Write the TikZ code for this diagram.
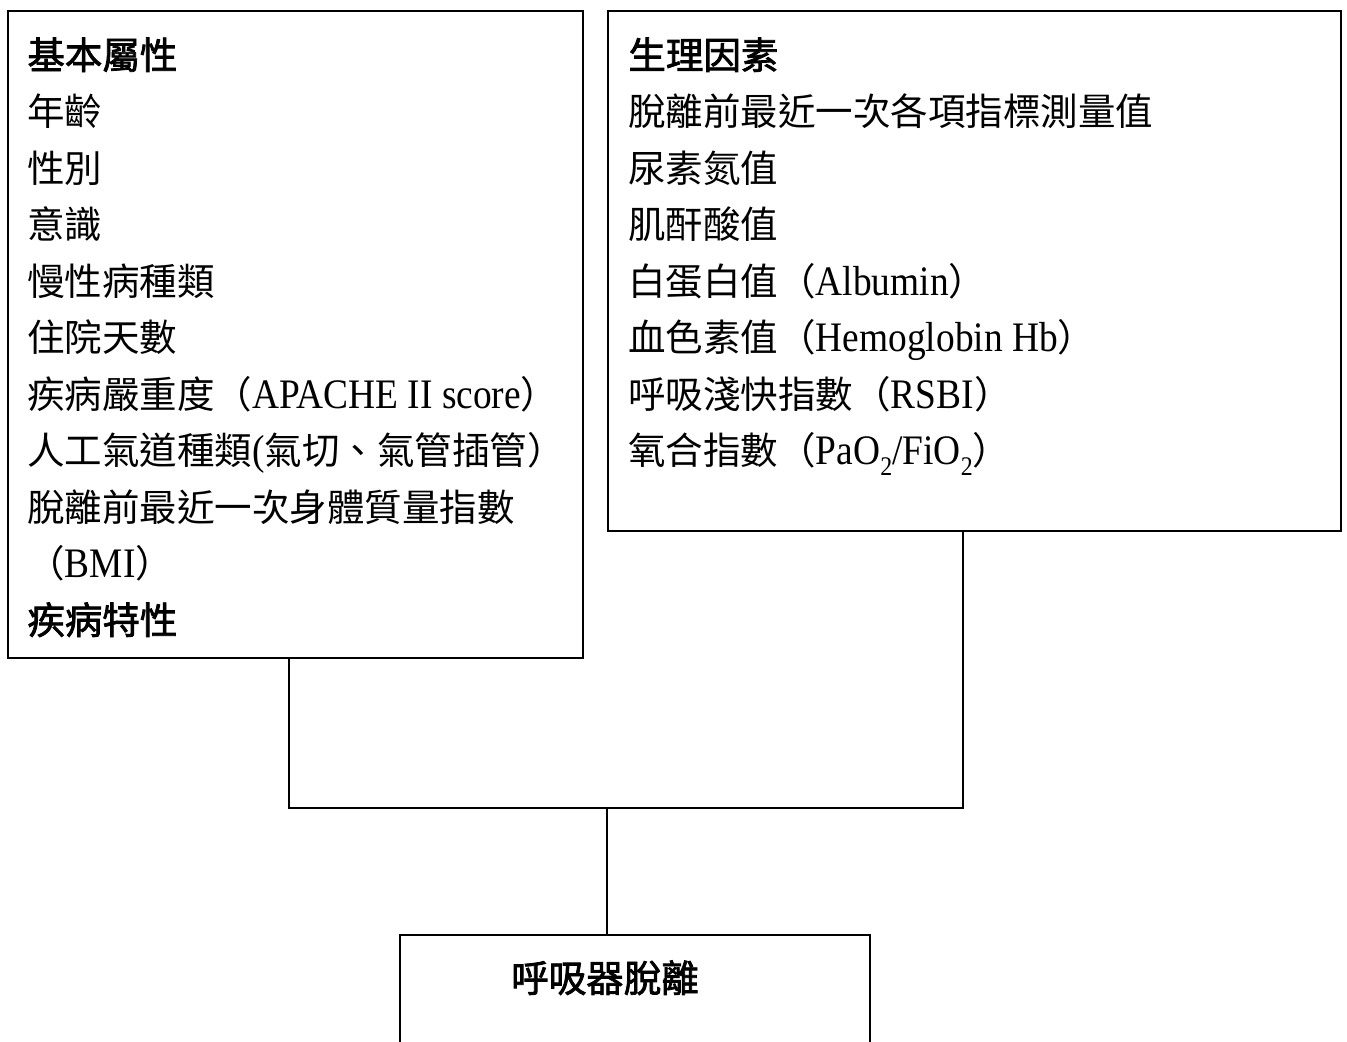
\documentclass[tikz,border=0pt]{standalone}
\usepackage{fontspec}
\setmainfont{Liberation Serif}[Scale=1.12,FakeStretch=0.89]
\newfontfamily\cjk{Noto Sans CJK TC}
\newfontfamily\cjkb[FakeBold=2]{Noto Sans CJK TC}
\newcommand\zh[1]{{\cjk #1}}
\newcommand\zhb[1]{{\cjkb #1}}
\newcommand\subtwo{\raisebox{-0.25em}{\fontsize{12pt}{12pt}\selectfont 2}}
\begin{document}
\begin{tikzpicture}[x=0.5pt,y=-0.5pt,
  box/.style={draw,line width=1pt,anchor=north west,inner sep=0pt},
  txt/.style={anchor=base west,inner sep=0pt,font=\fontsize{18.75pt}{28pt}\selectfont},
  ctxt/.style={anchor=base,inner sep=0pt,font=\fontsize{18.75pt}{28pt}\selectfont},
  conn/.style={line width=1pt}]
\useasboundingbox (0,0) rectangle (1347,1041);
\clip (0,0) rectangle (1347,1041);
\node[box,minimum width=287.5pt,minimum height=323.5pt] (L) at (7,10) {};
\node[box,minimum width=366.5pt,minimum height=260pt] (R) at (607,10) {};
\node[box,minimum width=235pt,minimum height=70pt] (B) at (399,934) {};
% left texts
\node[txt] (l0) at (27,69) {\zhb{基本屬性}};
\node[txt] (l1) at (27,125.5) {\zh{年齡}};
\node[txt] (l2) at (27,182) {\zh{性別}};
\node[txt] (l3) at (27,238.5) {\zh{意識}};
\node[txt] (l4) at (27,295) {\zh{慢性病種類}};
\node[txt] (l5) at (27,351.5) {\zh{住院天數}};
\node[txt] (l6) at (27,408) {\zh{疾病嚴重度（}APACHE II score\zh{）}};
\node[txt] (l7) at (27,464.5) {\zh{人工氣道種類}(\zh{氣切、氣管插管）}};
\node[txt] (l8) at (27,521) {\zh{脫離前最近一次身體質量指數}};
\node[txt] (l9) at (27,577.5) {\zh{（}BMI\zh{）}};
\node[txt] (l10) at (27,634) {\zhb{疾病特性}};
% right texts
\node[txt] (r0) at (628,69) {\zhb{生理因素}};
\node[txt] (r1) at (628,125.5) {\zh{脫離前最近一次各項指標測量值}};
\node[txt] (r2) at (628,182) {\zh{尿素氮值}};
\node[txt] (r3) at (628,238.5) {\zh{肌酐酸值}};
\node[txt] (r4) at (628,295) {\zh{白蛋白值（}Albumin\zh{）}};
\node[txt] (r5) at (628,351.5) {\zh{血色素值（}Hemoglobin Hb\zh{）}};
\node[txt] (r6) at (628,408) {\zh{呼吸淺快指數（}RSBI\zh{）}};
\node[txt] (r7) at (628,464.5) {\zh{氧合指數（}PaO\subtwo/FiO\subtwo\zh{）}};
% bottom text
\node[ctxt] (b0) at (605,992) {\zhb{呼吸器脫離}};
% connectors
\coordinate (J) at (607,808);
\draw[conn] ([xshift=141pt]L.south west) |- (J) -| ([xshift=178pt]R.south west);
\draw[conn] (J) -- ([xshift=104pt]B.north west);
\end{tikzpicture}
\end{document}
